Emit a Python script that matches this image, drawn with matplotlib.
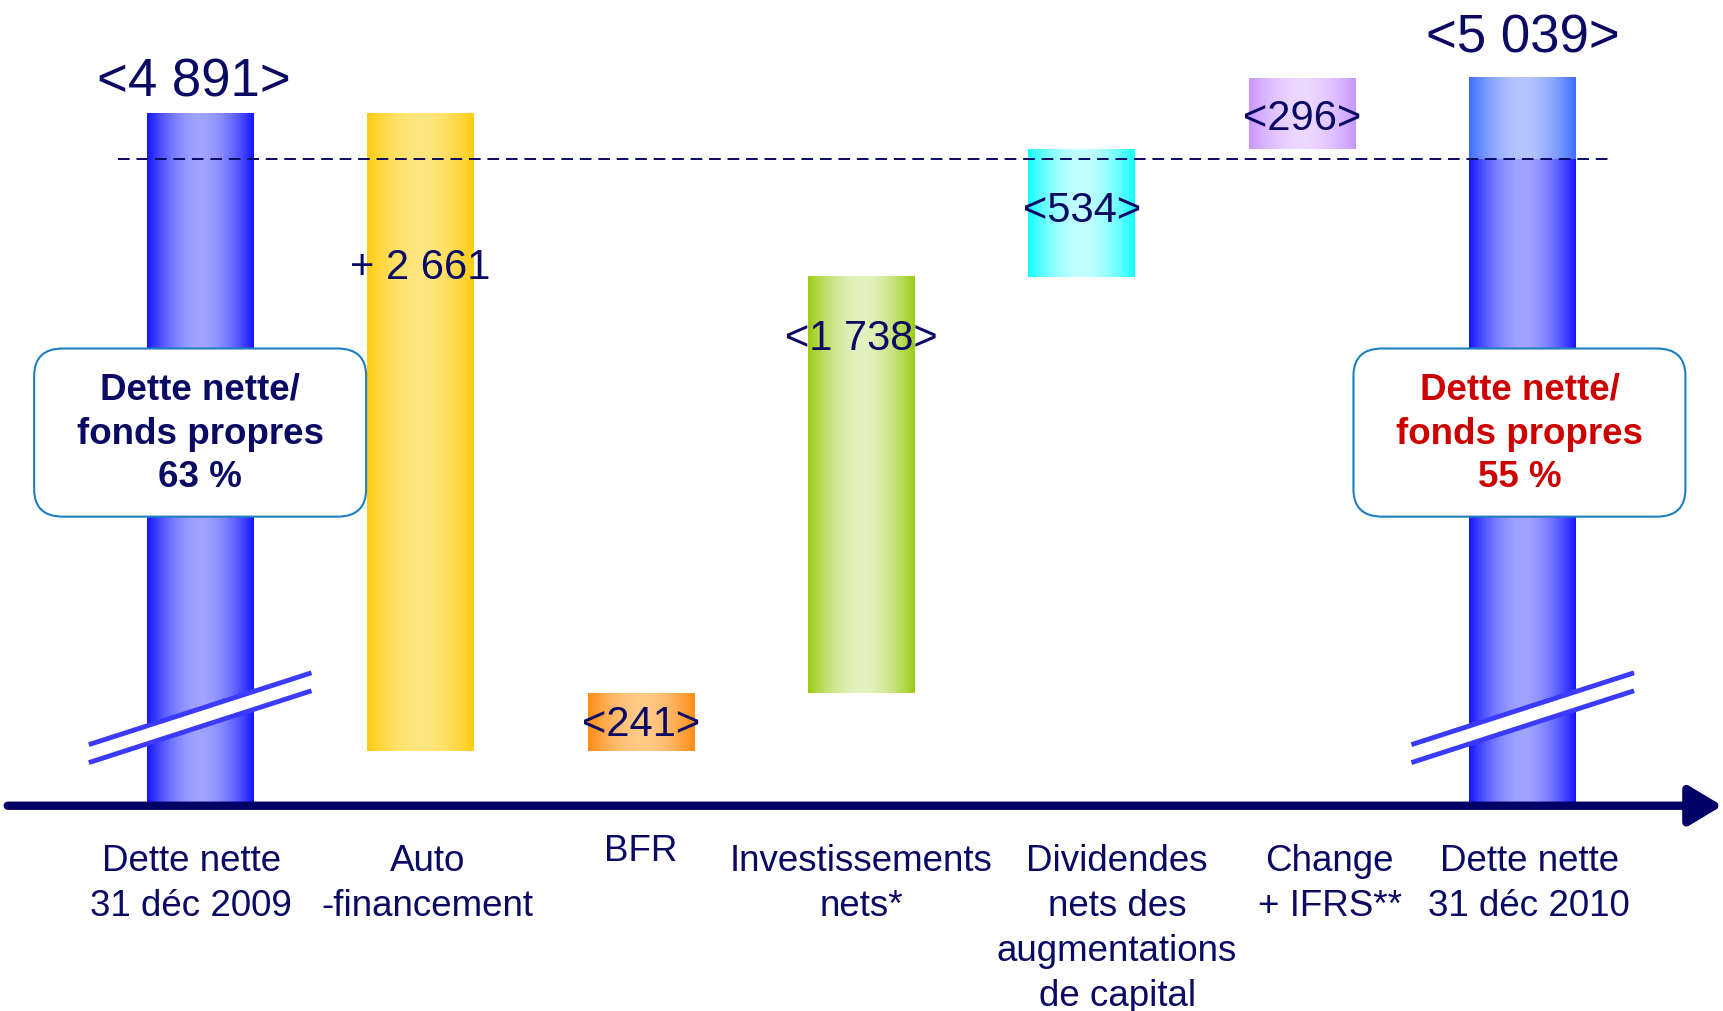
import numpy as np
import matplotlib
matplotlib.use("Agg")
import matplotlib.pyplot as plt
from matplotlib.patches import FancyBboxPatch, Polygon

plt.rcParams['font.family'] = ['Liberation Sans', 'DejaVu Sans']

# data
categories = ["Dette nette\n31 déc 2009", "Auto\n-financement", "BFR",
              "Investissements\nnets*",
              "Dividendes\nnets des\naugmentations\nde capital",
              "Change\n+ IFRS**", "Dette nette\n31 déc 2010"]
debt_start = 4891
debt_end = 5039
changes = [-2661, 241, 1738, 534, 296]
change_labels = ["+ 2 661", "<241>", "<1 738>", "<534>", "<296>"]
total_labels = ["<4 891>", "<5 039>"]
ratio_labels = ["Dette nette/\nfonds propres\n63 %", "Dette nette/\nfonds propres\n55 %"]
ratio_colors = ["#0A0A64", "#CC0000"]
ref_level = 4700   # dashed reference line
axis_base = 2000   # broken axis: value where the x axis is drawn

# gradient colours (edge, centre)
total_grad = ((20, 20, 255), (160, 164, 255))
top_grad = ((60, 110, 255), (182, 196, 255))
change_grads = [((255, 204, 17), (255, 230, 128)),
                ((255, 140, 20), (255, 202, 135)),
                ((153, 204, 17), (228, 242, 192)),
                ((17, 255, 255), (195, 255, 255)),
                ((200, 150, 255), (236, 216, 255))]

navy = "#0A0A64"


def gradient(ax, x0, x1, y0, y1, edge, centre, z=3):
    u = np.linspace(0, 1, 256)
    f = 1 - np.abs(2 * u - 1) ** 1.8
    edge = np.array(edge, float)
    centre = np.array(centre, float)
    rgb = edge + (centre - edge) * f[:, None]
    ax.imshow(rgb[None, :, :] / 255, extent=(x0, x1, y0, y1), aspect='auto',
              interpolation='bilinear', zorder=z)


fig = plt.figure(figsize=(17.24, 10.11), dpi=100)
ax = fig.add_axes([0, 0, 1, 1])

x = np.arange(len(categories))
width = 0.485

levels = debt_start + np.cumsum(changes)
prev = np.concatenate([[debt_start], levels[:-1]])
bottoms = np.minimum(prev, levels)
heights = np.abs(changes)

# total bars
tot_bars = ax.bar([x[0], x[-1]], [debt_start - axis_base, debt_end - axis_base],
                  width, bottom=axis_base, color="#1414FF", zorder=2)
first, last = tot_bars
x0, y0 = first.get_xy()
gradient(ax, x0, x0 + first.get_width(), y0, y0 + first.get_height(), *total_grad)
# last bar: lighter part above the reference line
x0, y0 = last.get_xy()
gradient(ax, x0, x0 + last.get_width(), y0, ref_level, *total_grad)
gradient(ax, x0, x0 + last.get_width(), ref_level, y0 + last.get_height(), *top_grad)

# change bars
ch_bars = ax.bar(x[1:-1], heights, width, bottom=bottoms, color="#FFCC11", zorder=2)
for b, g in zip(ch_bars, change_grads):
    x0, y0 = b.get_xy()
    gradient(ax, x0, x0 + b.get_width(), y0, y0 + b.get_height(), *g)

# value labels
label_frac = [0.235, 0.47, 0.14, 0.45, 0.52]
for b, lab, fr in zip(ch_bars, change_labels, label_frac):
    xc = b.get_x() + b.get_width() / 2
    yc = b.get_y() + b.get_height() * (1 - fr)
    ax.text(xc, yc, lab, ha='center', va='center_baseline', fontsize=30,
            color=navy, zorder=8)
for b, lab, dx, off in zip(tot_bars, total_labels, [-0.03, 0.0], [26, 32]):
    xc = b.get_x() + b.get_width() / 2 + dx
    ax.annotate(lab, (xc, b.get_y() + b.get_height()), xytext=(0, off),
                textcoords='offset points', ha='center', va='center_baseline',
                fontsize=38, color=navy, zorder=8)

# dashed reference line
ax.plot([-0.374, 6.40], [ref_level, ref_level], ls=(0, (6, 3.5)), lw=1.4,
        color=navy, zorder=6)

# axis break marks
for xi in [x[0], x[-1]]:
    xl, xr = xi - 0.505, xi + 0.505
    lo = [2180, 2480]
    hi = [2255, 2555]
    ax.add_patch(Polygon([(xl, lo[0]), (xr, lo[1]), (xr, hi[1]), (xl, hi[0])],
                         closed=True, fc='white', ec='none', zorder=4))
    ax.plot([xl, xr], lo, color="#3B3BFF", lw=3.5, zorder=5, solid_capstyle='butt')
    ax.plot([xl, xr], hi, color="#3B3BFF", lw=3.5, zorder=5, solid_capstyle='butt')

# ratio boxes
for xi, lab, c, dx in zip([x[0], x[-1]], ratio_labels, ratio_colors, [0.0, -0.015]):
    box = FancyBboxPatch((xi + dx - 0.753, 3207), 1.506, 702,
                         boxstyle="round,pad=0,rounding_size=0.13",
                         mutation_aspect=880, fc='white', ec="#1E7FC0",
                         lw=1.5, zorder=7)
    ax.add_patch(box)
    ax.text(xi + dx, 3552, lab, ha='center', va='center', fontsize=26.5,
            fontweight='bold', color=c, linespacing=1.33, zorder=8)

# x axis with arrow
ax.annotate("", xy=(6.905, axis_base), xytext=(-0.873, axis_base),
            arrowprops=dict(arrowstyle="-|>,head_length=1.0,head_width=0.6",
                            lw=6, color="#000066", shrinkA=0, shrinkB=0,
                            mutation_scale=20), zorder=6)

# category labels
label_dx = [-0.04, 0.03, 0.0, 0.0, 0.16, 0.125, 0.03]
for xi, lab, dx in zip(x, categories, label_dx):
    top = 1880 if "\n" not in lab else 1840
    ax.text(xi + dx, top, lab, ha='center', va='top', fontsize=26.5,
            color=navy, linespacing=1.37)

ax.set_xlim(-0.908, 6.913)
ax.set_ylim(1143, 5364)
ax.axis('off')

fig.savefig("out.png", dpi=100)
